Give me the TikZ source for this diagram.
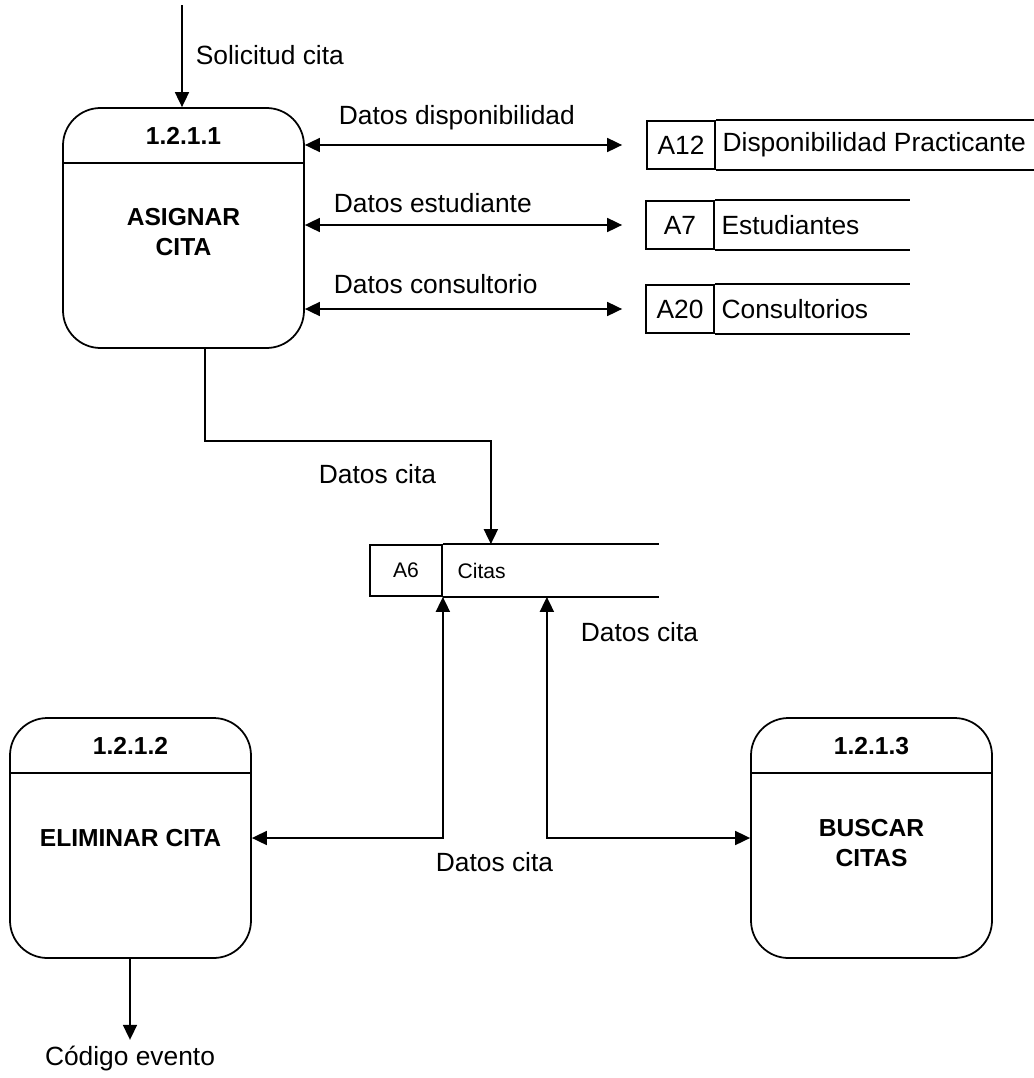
\documentclass[tikz,border=0pt]{standalone}
\usepackage{fontspec}
\setmainfont{Liberation Sans}
\usetikzlibrary{arrows.meta}
\tikzset{%
  >={Triangle[width=2.8mm,length=3mm]},
  % Specifications for style of nodes:
         process/.style = {rectangle, rounded corners=0.75cm, draw=black,
                           line width=1pt, minimum width=4.82cm,
                           minimum height=4.8cm},
           title/.style = {font=\fontsize{14}{17}\selectfont\bfseries},
        procname/.style = {font=\fontsize{14}{17}\selectfont\bfseries,
                           align=center},
         storeid/.style = {rectangle, draw=black, line width=1pt,
                           minimum width=1.36cm, minimum height=0.96cm,
                           font=\fontsize{15}{18}\selectfont},
       storename/.style = {anchor=west, font=\fontsize{15}{18}\selectfont},
            flow/.style = {anchor=west, inner sep=0pt,
                           font=\fontsize{15}{18}\selectfont},
}

\begin{document}
\begin{tikzpicture}[line width=1pt]
  \useasboundingbox (0,0) rectangle (20.68,-21.56);

  % Processes
\node (p1) at (3.67,-4.56)   [process] {};
\node (p2) at (2.61,-16.76)  [process] {};
\node (p3) at (17.43,-16.76) [process] {};

\draw ([yshift=-1.12cm]p1.north west) -- ([yshift=-1.12cm]p1.north east);
\draw ([yshift=-1.12cm]p2.north west) -- ([yshift=-1.12cm]p2.north east);
\draw ([yshift=-1.12cm]p3.north west) -- ([yshift=-1.12cm]p3.north east);

\node (t1) at (3.67,-2.72)   [title] {1.2.1.1};
\node (t2) at (2.61,-14.92)  [title] {1.2.1.2};
\node (t3) at (17.43,-14.92) [title] {1.2.1.3};

\node (n1) at (3.67,-4.64)   [procname] {ASIGNAR\\CITA};
\node (n2) at (2.61,-16.76)  [procname] {ELIMINAR CITA};
\node (n3) at (17.43,-16.86) [procname] {BUSCAR\\CITAS};

  % Data stores
\node (a12) at (13.62,-2.9)  [storeid] {A12};
\node (a7)  at (13.6,-4.5)   [storeid] {A7};
\node (a20) at (13.6,-6.18)  [storeid] {A20};
\node (a6)  at (8.12,-11.41) [storeid, minimum width=1.44cm,
                              minimum height=1.02cm,
                              font=\fontsize{12}{14}\selectfont] {A6};

\node (dispo)  at (a12.east) [storename] {Disponibilidad Practicante};
\node (estud)  at (a7.east)  [storename] {Estudiantes};
\node (consul) at (a20.east) [storename] {Consultorios};
\node (citas)  at ([xshift=0.16cm]a6.east) [storename,
                              font=\fontsize{12}{14}\selectfont] {Citas};

\draw (a12.north east) -- ++(6.38,0);
\draw (a12.south east) -- ++(6.38,0);
\draw (a7.north east) -- ++(3.9,0);
\draw (a7.south east) -- ++(3.9,0);
\draw (a20.north east) -- ++(3.9,0);
\draw (a20.south east) -- ++(3.9,0);
\draw (a6.north east) -- ++(4.32,0);
\draw (a6.south east) -- ++(4.32,0);

  % Flows
\coordinate (ext) at (3.64,-0.1);
\draw[->] (ext) -- (ext |- p1.north);
\node (solic) at (3.9,-1.1) [flow] {Solicitud cita};

\draw[<->, shorten >=0.48cm] (p1.east |- a12) -- (a12.west);
\draw[<->, shorten >=0.46cm] (p1.east |- a7)  -- (a7.west);
\draw[<->, shorten >=0.46cm] (p1.east |- a20) -- (a20.west);

\node (ldispo)  at (6.76,-2.36) [flow] {Datos disponibilidad};
\node (lestud)  at (6.66,-4.06) [flow] {Datos estudiante};
\node (lconsul) at (6.66,-5.68) [flow] {Datos consultorio};

\draw[->] ([xshift=0.43cm]p1.south) -- ++(0,-1.84) -| ([xshift=0.96cm]a6.north east);
\node (lcita1) at (6.36,-9.48) [flow] {Datos cita};

\draw[<->] (p2.east) -| (a6.south east);
\draw[<->] ([xshift=2.08cm]a6.south east) |- (p3.west);
\node (lcita2) at (11.6,-12.64) [flow] {Datos cita};
\node (lcita3) at (8.7,-17.24)  [flow] {Datos cita};

\node (evento) at (2.6,-21.18) [font=\fontsize{15}{18}\selectfont] {Código evento};
\draw[->] (p2.south -| evento) -- (evento.north);
\end{tikzpicture}
\end{document}
